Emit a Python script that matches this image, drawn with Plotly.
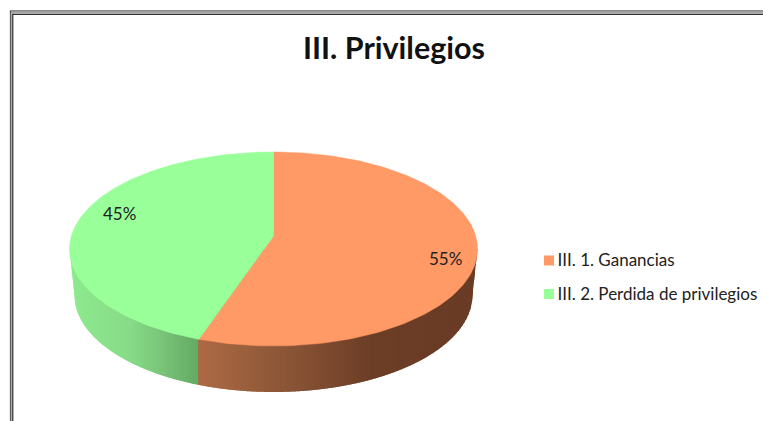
import numpy as np
import plotly.graph_objects as go

# --- data ---
categories = ["III. 1. Ganancias", "III. 2. Perdida de privilegios"]
values = [55, 45]
top_colors = ["#FF9966", "#99FF99"]
title = "III. Privilegios"

# --- drawing geometry (pixel-like axis units, not data) ---
W, H = 763, 421
CX, CY, RX, RY = 273.5, 249.0, 204.0, 97.0      # top ellipse
APEX = (273.5, 236.0)                            # perspective apex of the pie
SQUASH = 0.45
BCY, BRX, BRY = 295.0, 199.0, 97.0               # bottom ellipse
LEGEND_X, LEGEND_Y = 549.0, [260.5, 294.0]       # legend placement
side_stops = {
    "x": [70, 130, 170, 199, 199.01, 280, 370, 477],
    "r": [0x8E, 0x88, 0x75, 0x63, 0xAD, 0x8E, 0x6D, 0x6A],
    "g": [0xEB, 0xDC, 0xBE, 0xAB, 0x6B, 0x57, 0x3F, 0x3B],
    "b": [0x8E, 0x88, 0x75, 0x63, 0x45, 0x38, 0x27, 0x25],
}


def edge_point(frac):
    """Point on the top ellipse for a clockwise fraction from 12 o'clock."""
    t = 2 * np.pi * frac
    dx, dy = np.sin(t), -np.cos(t) * SQUASH
    ox, oy = APEX[0] - CX, APEX[1] - CY
    a = (dx / RX) ** 2 + (dy / RY) ** 2
    b = 2 * (ox * dx / RX ** 2 + oy * dy / RY ** 2)
    c = (ox / RX) ** 2 + (oy / RY) ** 2 - 1
    s = (-b + np.sqrt(b * b - 4 * a * c)) / (2 * a)
    return APEX[0] + s * dx, APEX[1] + s * dy


def wall_bottom(x):
    """Lower outline of the wall: bottom ellipse, joined to the top rim by the slanted ends."""
    inner = np.abs(x - CX) <= BRX
    ell = BCY + BRY * np.sqrt(np.clip(1 - ((x - CX) / BRX) ** 2, 0, 1))
    slant = CY + (RX - np.abs(x - CX)) / (RX - BRX) * (BCY - CY)
    return np.where(inner, ell, slant)


fracs = np.cumsum([0] + values) / sum(values)
fig = go.Figure()

# side wall strips: each strip overlaps the next one, so no seams show
xs = np.linspace(CX - RX, CX + RX, 204)
for x0, x1 in zip(xs[:-1], xs[1:]):
    x1o = min(x1 + 1.5, xs[-1])
    xg = np.linspace(x0, x1o, 5)
    mid = (x0 + x1) / 2
    col = "rgb(%d,%d,%d)" % tuple(np.interp(mid, side_stops["x"], side_stops[k]) for k in "rgb")
    fig.add_trace(go.Scatter(
        x=np.r_[xg, xg[::-1]], y=np.r_[np.full(5, CY), wall_bottom(xg)[::-1]],
        mode="none", fill="toself", fillcolor=col,
        showlegend=False, hoverinfo="skip"))

# top face slices
for i, cat in enumerate(categories):
    ff = np.linspace(fracs[i], fracs[i + 1], 160)
    pts = np.array([edge_point(f) for f in ff])
    fig.add_trace(go.Scatter(
        x=np.r_[APEX[0], pts[:, 0], APEX[0]], y=np.r_[APEX[1], pts[:, 1], APEX[1]],
        mode="lines", fill="toself", fillcolor=top_colors[i],
        line=dict(color=top_colors[i], width=0.5), showlegend=False,
        name=cat, hoverinfo="name"))

# legend: squares and category text
fig.add_trace(go.Scatter(
    x=[LEGEND_X] * len(categories), y=LEGEND_Y, mode="markers",
    marker=dict(symbol="square", size=10, color=top_colors),
    showlegend=False, hoverinfo="skip"))
fig.add_trace(go.Scatter(
    x=[LEGEND_X + 8.5] * len(categories), y=[y + 1.5 for y in LEGEND_Y], mode="text",
    text=categories, textposition="middle right",
    textfont=dict(family="Lato", size=17, color="#222222"),
    showlegend=False, cliponaxis=False, hoverinfo="skip"))

# percent labels anchored at slice mid-angles
label_r = [0.85, 0.85]
label_shift = [(1, 3), (17, 23)]
annotations = []
for i, v in enumerate(values):
    t = 2 * np.pi * (fracs[i] + fracs[i + 1]) / 2
    annotations.append(dict(
        x=CX + label_r[i] * RX * np.sin(t), y=CY - label_r[i] * RY * np.cos(t),
        xref="x", yref="y", text=f"{v}%", showarrow=False,
        xshift=label_shift[i][0], yshift=label_shift[i][1],
        font=dict(family="Lato", size=17, color="#222222")))

# frame
frame = [dict(type="path", path=f"M {x},{H + 5} L {x},{y} L {W + 5},{y}",
              xref="x", yref="y", line=dict(color=c, width=w), layer="above")
         for x, y, c, w in [(10.5, 11.0, "#1a1a1a", 1.2),
                            (11.5, 12.5, "#a8a8a8", 2),
                            (12.8, 14.3, "#303030", 1.2)]]

fig.update_layout(
    width=W, height=H, margin=dict(l=0, r=0, t=0, b=0),
    paper_bgcolor="white", plot_bgcolor="white", showlegend=False,
    xaxis=dict(range=[0, W], visible=False, fixedrange=True),
    yaxis=dict(range=[H, 0], visible=False, fixedrange=True),
    title=dict(text=f"<b>{title}</b>", x=394 / W, xanchor="center", y=1 - 48 / H, yanchor="middle",
               font=dict(family="Lato", size=30.5, color="#111111")),
    annotations=annotations, shapes=frame,
)
fig.write_html("out.html", config={"displayModeBar": False},
               post_script="document.body.style.margin='0';document.body.style.overflow='hidden';")
